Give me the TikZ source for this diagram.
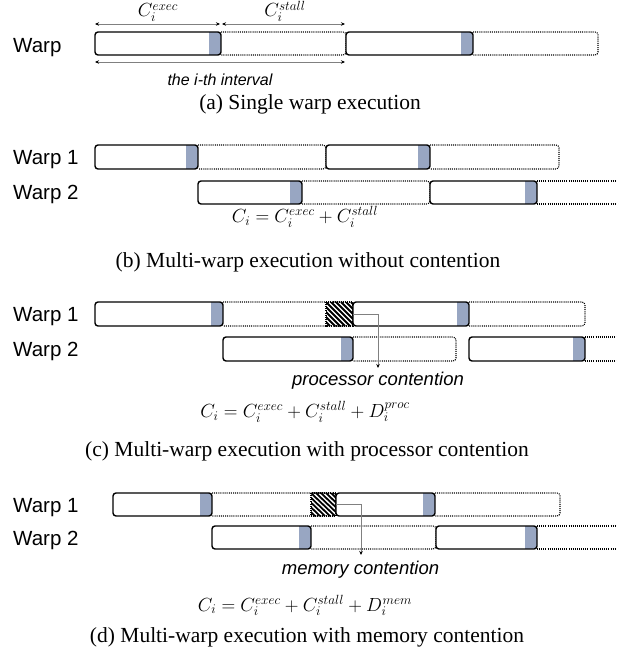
\RequirePackage{fix-cm}
\documentclass[tikz,border=0pt]{standalone}
\usepackage{fontspec}
\setmainfont{Liberation Serif}
\newfontfamily\arialf{Liberation Sans}
\usetikzlibrary{arrows.meta}
\definecolor{stripcol}{RGB}{152,166,194}
\definecolor{conngray}{RGB}{128,128,128}
\tikzset{
  execline/.style={line width=1.4pt, rounded corners=3pt},
  stallline/.style={line width=1.1pt, dash pattern=on 1pt off 1.1pt},
  warplabel/.style={font=\arialf\fontsize{20.5}{22}\selectfont, anchor=base west, inner sep=0pt},
  caplabel/.style={font=\fontsize{21.5}{24}\selectfont, anchor=base, inner sep=0pt},
  formula/.style={font=\fontsize{19}{21}\selectfont, anchor=base, inner sep=0pt},
  contlabel/.style={font=\arialf\itshape\fontsize{18.5}{20}\selectfont, anchor=base, inner sep=0pt},
  conn/.style={draw=conngray, line width=0.8pt, -{Stealth[length=4pt,width=3.5pt,black]}},
  dimarrow/.style={draw=conngray, line width=0.8pt, {Stealth[length=4pt,width=3.5pt,black]}-{Stealth[length=4pt,width=3.5pt,black]}}
}
\newcommand{\wexecbox}[4]{%
  \begin{scope}
    \clip[rounded corners=3pt] (#1,#3) rectangle (#2,#4);
    \fill[white] (#1,#3) rectangle (#2,#4);
    \fill[stripcol] ({#2-12},#3) rectangle (#2,#4);
  \end{scope}
  \draw[execline] (#1,#3) rectangle (#2,#4);}
\newcommand{\wstallbox}[4]{%
  \draw[stallline, rounded corners=3pt] (#1,#3) -- (#2,#3) -- (#2,#4) -- (#1,#4);}
\newcommand{\wopenstall}[4]{%
  \draw[stallline] (#1,#3) -- (#2,#3) (#1,#4) -- (#2,#4);}
\newcommand{\whatch}[4]{%
  \begin{scope}
    \clip (#1,#3) rectangle (#2,#4);
    \foreach \k in {-30,-25,...,30} \draw[line width=1.8pt] ({#1+\k},#3) -- ({#1+\k+24},#4);
  \end{scope}
  \draw[stallline] (#1,#3) rectangle (#2,#4);}
\begin{document}
\begin{tikzpicture}[x=1pt,y=-1pt]
\useasboundingbox[fill=white] (0,0) rectangle (616,652);

% ---------- (a)
\node[warplabel] (wa) at (13,53) {Warp};
\wstallbox{221}{346}{32}{55}
\wstallbox{473}{598}{32}{55}
\wexecbox{95}{221}{32}{55}
\wexecbox{346}{473}{32}{55}
\coordinate (a0) at (95,24);
\coordinate (a1) at (220,24);
\coordinate (a2) at (222,24);
\coordinate (a3) at (345,24);
\coordinate (b0) at (95,62);
\coordinate (b1) at (345,62);
\draw[dimarrow] (a0) -- (a1);
\draw[dimarrow] (a2) -- (a3);
\draw[dimarrow] (b0) -- (b1);
\node[formula] (cexec) at (158,17) {$C_i^{exec}$};
\node[formula] (cstall) at (285,17) {$C_i^{stall}$};
\node[contlabel, font=\arialf\itshape\fontsize{16}{18}\selectfont] (intv) at (220,86) {the i-th interval};
\node[caplabel] (capa) at (310,110) {(a) Single warp execution};

% ---------- (b)
\node[warplabel] (wb1) at (13,164.5) {Warp 1};
\node[warplabel] (wb2) at (13,200) {Warp 2};
\wstallbox{198}{326}{145}{169}
\wstallbox{430}{559}{145}{169}
\wexecbox{95}{198}{145}{169}
\wexecbox{326}{430}{145}{169}
\wstallbox{302}{430}{181}{204}
\wopenstall{537}{620}{181}{204}
\wexecbox{198}{302}{181}{204}
\wexecbox{430}{537}{181}{204}
\node[formula] (fb) at (305,222.5) {$C_i = C_i^{exec} + C_i^{stall}$};
\node[caplabel] (capb) at (308,267) {(b) Multi-warp execution without contention};

% ---------- (c)
\node[warplabel] (wc1) at (13,321.5) {Warp 1};
\node[warplabel] (wc2) at (13,356.5) {Warp 2};
\wstallbox{223}{353}{302}{326}
\wstallbox{469}{585}{302}{326}
\whatch{326}{353}{302}{326}
\wexecbox{95}{223}{302}{326}
\wexecbox{353}{469}{302}{326}
\wstallbox{353}{456}{337}{361}
\wopenstall{585}{620}{337}{361}
\wexecbox{223}{353}{337}{361}
\wexecbox{469}{585}{337}{361}
\node[contlabel] (pc) at (378,385) {processor contention};
\coordinate (cs) at (353,314);
\coordinate (ce) at (378,368);
\draw[conn] (cs) -| (ce);
\node[formula] (fc) at (305,417.5) {$C_i = C_i^{exec} + C_i^{stall} + D_i^{proc}$};
\node[caplabel] (capc) at (307,456) {(c) Multi-warp execution with processor contention};

% ---------- (d)
\node[warplabel] (wd1) at (13,512) {Warp 1};
\node[warplabel] (wd2) at (13,545) {Warp 2};
\wstallbox{212}{336}{493}{516}
\wstallbox{435}{560}{493}{516}
\whatch{311}{336}{493}{516}
\wexecbox{113}{212}{493}{516}
\wexecbox{336}{435}{493}{516}
\wstallbox{311}{436}{526}{549}
\wopenstall{537}{620}{526}{549}
\wexecbox{212}{311}{526}{549}
\wexecbox{436}{537}{526}{549}
\node[contlabel] (mc) at (360.5,574) {memory contention};
\coordinate (ds) at (336,504.5);
\coordinate (de) at (361,555);
\draw[conn] (ds) -| (de);
\node[formula] (fd) at (305,611) {$C_i = C_i^{exec} + C_i^{stall} + D_i^{\kern0.6pt mem}$};
\node[caplabel] (capd) at (307,642.5) {(d) Multi-warp execution with memory contention};
\end{tikzpicture}
\end{document}
